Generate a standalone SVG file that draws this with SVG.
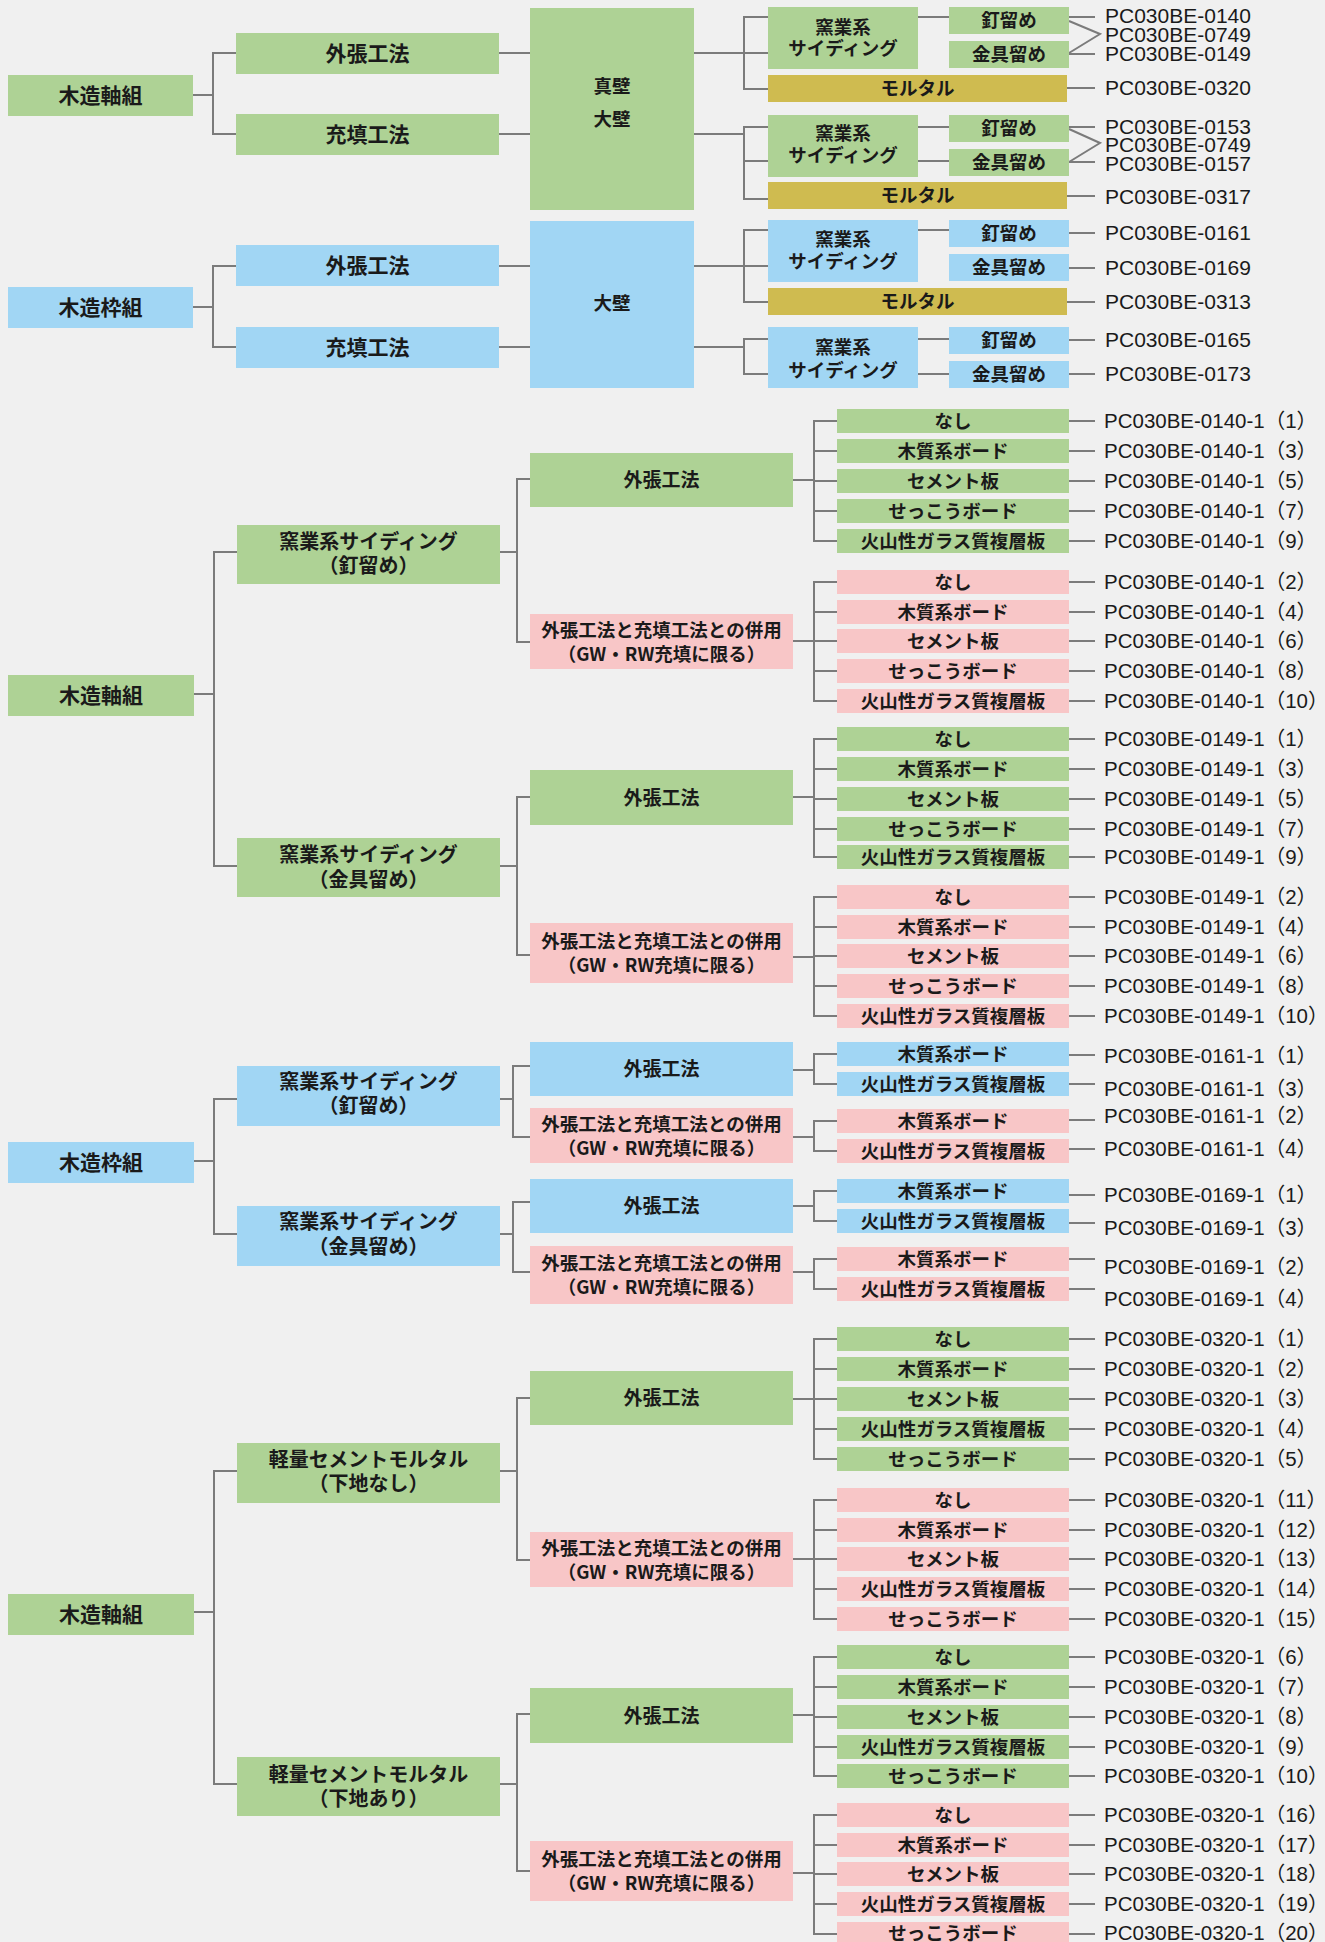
<svg xmlns="http://www.w3.org/2000/svg" width="1325" height="1942" viewBox="0 0 1325 1942">
<style>
.bg{fill:#f0f0f0}
.g{fill:#aed295}.b{fill:#a1d6f4}.p{fill:#f8c6c7}.m{fill:#cfbb50}
.t{font-family:"Noto Sans CJK JP",sans-serif;font-size:20px;text-anchor:middle;fill:#1a1a1a;font-weight:700}
.s{font-size:18.5px}
.l{font-size:21px}
.i{font-size:18.5px}
.k{font-size:18.5px}
.o{font-size:19px}
.pc{font-family:"Liberation Sans","Noto Sans CJK JP",sans-serif;font-size:20.5px;fill:#1a1a1a}
.pt{font-size:21px}
.c{stroke:#7b7b7b;stroke-width:2;fill:none;stroke-linecap:square}
</style>
<rect class="bg" x="0" y="0" width="1325" height="1942"/>
<g id="connectors" class="c">
<path d="M193 95H213M213 53V134M213 53H236M213 134H236M499 53H530M499 134H530"/>
<path d="M694 53H768M744 17V89M744 17H768M744 89H768M918 17H949"/>
<path d="M1069 17H1095M1069 21L1100 34L1069 53M1069 54H1095M1067 88H1095" stroke-linecap="butt"/>
<path d="M694 134H744M744 127V199M744 127H768M744 161H768M744 199H768M918 127H949M918 161H949"/>
<path d="M1069 127H1095M1069 129L1100 143L1069 162M1069 162H1095M1067 196H1095" stroke-linecap="butt"/>
<path d="M193 307H213M213 266V347M213 266H236M213 347H236M499 266H530M499 347H530"/>
<path d="M694 266H768M744 230V302M744 230H768M744 302H768M918 230H949"/>
<path d="M1069 233H1095M1069 268H1095M1067 302H1095" stroke-linecap="butt"/>
<path d="M694 347H744M744 339V374M744 339H768M744 374H768M918 339H949M918 374H949"/>
<path d="M1069 340H1095M1069 374H1095" stroke-linecap="butt"/>
<path d="M194 694H214M214 552V866M214 552H237M214 866H237"/>
<path d="M500 552H517M517 479V642M517 479H530M517 642H530"/>
<path d="M793 480H814M814 421V541M814 421H837M814 451H837M814 481H837M814 511H837M814 541H837"/>
<path d="M793 641H814M814 582V701M814 582H837M814 612H837M814 641H837M814 671H837M814 701H837"/>
<path d="M500 866H517M517 797V955M517 797H530M517 955H530"/>
<path d="M793 797H814M814 739V857M814 739H837M814 769H837M814 799H837M814 829H837M814 857H837"/>
<path d="M793 957H814M814 897V1016M814 897H837M814 927H837M814 956H837M814 986H837M814 1016H837"/>
<path d="M194 1161H214M214 1099V1234M214 1099H237M214 1234H237"/>
<path d="M500 1099H513M513 1066V1137M513 1066H530M513 1137H530"/>
<path d="M793 1070H814M814 1054V1084M814 1054H837M814 1084H837"/>
<path d="M793 1137H814M814 1121V1151M814 1121H837M814 1151H837"/>
<path d="M500 1234H513M513 1202V1272M513 1202H530M513 1272H530"/>
<path d="M793 1206H814M814 1191V1221M814 1191H837M814 1221H837"/>
<path d="M793 1272H814M814 1259V1289M814 1259H837M814 1289H837"/>
<path d="M194 1612H214M214 1471V1784M214 1471H237M214 1784H237"/>
<path d="M500 1471H517M517 1398V1560M517 1398H530M517 1560H530"/>
<path d="M793 1399H814M814 1339V1459M814 1339H837M814 1369H837M814 1399H837M814 1429H837M814 1459H837"/>
<path d="M793 1559H814M814 1500V1619M814 1500H837M814 1530H837M814 1559H837M814 1589H837M814 1619H837"/>
<path d="M500 1784H517M517 1714V1871M517 1714H530M517 1871H530"/>
<path d="M793 1715H814M814 1657V1776M814 1657H837M814 1687H837M814 1717H837M814 1747H837M814 1776H837"/>
<path d="M793 1873H814M814 1815V1934M814 1815H837M814 1845H837M814 1874H837M814 1904H837M814 1934H837"/>
<path stroke-linecap="butt" d="M1069 421H1095M1069 451H1095M1069 481H1095M1069 511H1095M1069 541H1095M1069 582H1095M1069 612H1095M1069 641H1095M1069 671H1095M1069 701H1095M1069 739H1095M1069 769H1095M1069 799H1095M1069 829H1095M1069 857H1095M1069 897H1095M1069 927H1095M1069 956H1095M1069 986H1095M1069 1016H1095"/>
<path stroke-linecap="butt" d="M1069 1055H1095M1069 1084H1095M1069 1120H1095M1069 1149H1095M1069 1195H1095M1069 1223H1095M1069 1259H1095M1069 1289H1095"/>
<path stroke-linecap="butt" d="M1069 1339H1095M1069 1369H1095M1069 1399H1095M1069 1429H1095M1069 1459H1095M1069 1500H1095M1069 1530H1095M1069 1559H1095M1069 1589H1095M1069 1619H1095M1069 1657H1095M1069 1687H1095M1069 1717H1095M1069 1747H1095M1069 1776H1095M1069 1815H1095M1069 1845H1095M1069 1874H1095M1069 1904H1095M1069 1934H1095"/>
</g>
<!-- top section -->
<g id="n-a1"><rect class="g" x="8" y="75" width="185" height="41"/><text class="t l" x="100.5" y="103">木造軸組</text></g>
<g id="n-b1"><rect class="g" x="236" y="33" width="263" height="41"/><text class="t l" x="367.5" y="61">外張工法</text></g>
<g id="n-b2"><rect class="g" x="236" y="114" width="263" height="41"/><text class="t l" x="367.5" y="142">充填工法</text></g>
<g id="n-c1"><rect class="g" x="530" y="8" width="164" height="202"/><text class="t s" x="612" y="93">真壁</text><text class="t s" x="612" y="126">大壁</text></g>
<g id="n-d1"><rect class="g" x="768" y="7" width="150" height="62"/><text class="t s" x="843" y="33.5">窯業系</text><text class="t s" x="843" y="55">サイディング</text></g>
<g id="n-e1"><rect class="g" x="949" y="7" width="120" height="27"/><text class="t s" x="1009" y="27">釘留め</text></g>
<g id="n-e2"><rect class="g" x="949" y="41" width="120" height="27"/><text class="t s" x="1009" y="61">金具留め</text></g>
<g id="n-f1"><rect class="m" x="768" y="75" width="299" height="27"/><text class="t s" x="917.5" y="95">モルタル</text></g>
<g id="n-d2"><rect class="g" x="768" y="115" width="150" height="62"/><text class="t s" x="843" y="140">窯業系</text><text class="t s" x="843" y="161.5">サイディング</text></g>
<g id="n-e3"><rect class="g" x="949" y="115" width="120" height="27"/><text class="t s" x="1009" y="135">釘留め</text></g>
<g id="n-e4"><rect class="g" x="949" y="149" width="120" height="27"/><text class="t s" x="1009" y="169">金具留め</text></g>
<g id="n-f2"><rect class="m" x="768" y="182" width="299" height="27"/><text class="t s" x="917.5" y="202">モルタル</text></g>
<g id="n-a2"><rect class="b" x="8" y="287" width="185" height="41"/><text class="t l" x="100.5" y="315">木造枠組</text></g>
<g id="n-b3"><rect class="b" x="236" y="245" width="263" height="41"/><text class="t l" x="367.5" y="273">外張工法</text></g>
<g id="n-b4"><rect class="b" x="236" y="327" width="263" height="41"/><text class="t l" x="367.5" y="355">充填工法</text></g>
<g id="n-c2"><rect class="b" x="530" y="221" width="164" height="167"/><text class="t s" x="612" y="310">大壁</text></g>
<g id="n-d3"><rect class="b" x="768" y="220" width="150" height="62"/><text class="t s" x="843" y="245.5">窯業系</text><text class="t s" x="843" y="268">サイディング</text></g>
<g id="n-e5"><rect class="b" x="949" y="220" width="120" height="27"/><text class="t s" x="1009" y="240">釘留め</text></g>
<g id="n-e6"><rect class="b" x="949" y="254" width="120" height="27"/><text class="t s" x="1009" y="274">金具留め</text></g>
<g id="n-f3"><rect class="m" x="768" y="288" width="299" height="27"/><text class="t s" x="917.5" y="308">モルタル</text></g>
<g id="n-d4"><rect class="b" x="768" y="327" width="150" height="61"/><text class="t s" x="843" y="353.5">窯業系</text><text class="t s" x="843" y="377">サイディング</text></g>
<g id="n-e7"><rect class="b" x="949" y="327" width="120" height="27"/><text class="t s" x="1009" y="347">釘留め</text></g>
<g id="n-e8"><rect class="b" x="949" y="361" width="120" height="27"/><text class="t s" x="1009" y="381">金具留め</text></g>
<g id="codes-top" class="pc pt">
<text x="1105" y="23">PC030BE-0140</text><text x="1105" y="42">PC030BE-0749</text><text x="1105" y="61">PC030BE-0149</text><text x="1105" y="95">PC030BE-0320</text>
<text x="1105" y="134">PC030BE-0153</text><text x="1105" y="152">PC030BE-0749</text><text x="1105" y="171">PC030BE-0157</text><text x="1105" y="204">PC030BE-0317</text>
<text x="1105" y="240">PC030BE-0161</text><text x="1105" y="275">PC030BE-0169</text><text x="1105" y="309">PC030BE-0313</text>
<text x="1105" y="347">PC030BE-0165</text><text x="1105" y="381">PC030BE-0173</text>
</g>
<!-- section 3 -->
<g id="n-a3"><rect class="g" x="8" y="675" width="186" height="41"/><text class="t l" x="101" y="703">木造軸組</text></g>
<g id="n-d5"><rect class="g" x="237" y="525" width="263" height="59"/><text class="t" x="368.5" y="549">窯業系サイディング</text><text class="t" x="368.5" y="573">（釘留め）</text></g>
<g id="n-d6"><rect class="g" x="237" y="838" width="263" height="59"/><text class="t" x="368.5" y="862">窯業系サイディング</text><text class="t" x="368.5" y="887">（金具留め）</text></g>
<g id="n-g1"><rect class="g" x="530" y="453" width="263" height="54"/><text class="t o" x="661.5" y="487">外張工法</text></g>
<g id="n-h1"><rect class="p" x="530" y="614" width="263" height="55"/><text class="t k" x="661.5" y="636.5">外張工法と充填工法との併用</text><text class="t k" x="661.5" y="660.5">（GW・RW充填に限る）</text></g>
<g id="n-g2"><rect class="g" x="530" y="770" width="263" height="55"/><text class="t o" x="661.5" y="804.5">外張工法</text></g>
<g id="n-h2"><rect class="p" x="530" y="923" width="263" height="60"/><text class="t k" x="661.5" y="948">外張工法と充填工法との併用</text><text class="t k" x="661.5" y="972">（GW・RW充填に限る）</text></g>
<g id="items-g1">
<rect class="g" x="837" y="409" width="232" height="24"/><text class="t i" x="953" y="428">なし</text>
<rect class="g" x="837" y="439" width="232" height="24"/><text class="t i" x="953" y="458">木質系ボード</text>
<rect class="g" x="837" y="469" width="232" height="24"/><text class="t i" x="953" y="488">セメント板</text>
<rect class="g" x="837" y="499" width="232" height="24"/><text class="t i" x="953" y="518">せっこうボード</text>
<rect class="g" x="837" y="529" width="232" height="24"/><text class="t i" x="953" y="548">火山性ガラス質複層板</text>
</g>
<g id="items-h1">
<rect class="p" x="837" y="570" width="232" height="24"/><text class="t i" x="953" y="589">なし</text>
<rect class="p" x="837" y="600" width="232" height="24"/><text class="t i" x="953" y="619">木質系ボード</text>
<rect class="p" x="837" y="629" width="232" height="24"/><text class="t i" x="953" y="648">セメント板</text>
<rect class="p" x="837" y="659" width="232" height="24"/><text class="t i" x="953" y="678">せっこうボード</text>
<rect class="p" x="837" y="689" width="232" height="24"/><text class="t i" x="953" y="708">火山性ガラス質複層板</text>
</g>
<g id="items-g2">
<rect class="g" x="837" y="727" width="232" height="24"/><text class="t i" x="953" y="746">なし</text>
<rect class="g" x="837" y="757" width="232" height="24"/><text class="t i" x="953" y="776">木質系ボード</text>
<rect class="g" x="837" y="787" width="232" height="24"/><text class="t i" x="953" y="806">セメント板</text>
<rect class="g" x="837" y="817" width="232" height="24"/><text class="t i" x="953" y="836">せっこうボード</text>
<rect class="g" x="837" y="845" width="232" height="24"/><text class="t i" x="953" y="864">火山性ガラス質複層板</text>
</g>
<g id="items-h2">
<rect class="p" x="837" y="885" width="232" height="24"/><text class="t i" x="953" y="904">なし</text>
<rect class="p" x="837" y="915" width="232" height="24"/><text class="t i" x="953" y="934">木質系ボード</text>
<rect class="p" x="837" y="944" width="232" height="24"/><text class="t i" x="953" y="963">セメント板</text>
<rect class="p" x="837" y="974" width="232" height="24"/><text class="t i" x="953" y="993">せっこうボード</text>
<rect class="p" x="837" y="1004" width="232" height="24"/><text class="t i" x="953" y="1023">火山性ガラス質複層板</text>
</g>
<g id="codes-s3" class="pc">
<text x="1104" y="428">PC030BE-0140-1（1）</text><text x="1104" y="458">PC030BE-0140-1（3）</text><text x="1104" y="488">PC030BE-0140-1（5）</text><text x="1104" y="518">PC030BE-0140-1（7）</text><text x="1104" y="548">PC030BE-0140-1（9）</text>
<text x="1104" y="589">PC030BE-0140-1（2）</text><text x="1104" y="619">PC030BE-0140-1（4）</text><text x="1104" y="648">PC030BE-0140-1（6）</text><text x="1104" y="678">PC030BE-0140-1（8）</text><text x="1104" y="708">PC030BE-0140-1（10）</text>
<text x="1104" y="746">PC030BE-0149-1（1）</text><text x="1104" y="776">PC030BE-0149-1（3）</text><text x="1104" y="806">PC030BE-0149-1（5）</text><text x="1104" y="836">PC030BE-0149-1（7）</text><text x="1104" y="864">PC030BE-0149-1（9）</text>
<text x="1104" y="904">PC030BE-0149-1（2）</text><text x="1104" y="934">PC030BE-0149-1（4）</text><text x="1104" y="963">PC030BE-0149-1（6）</text><text x="1104" y="993">PC030BE-0149-1（8）</text><text x="1104" y="1023">PC030BE-0149-1（10）</text>
</g>
<!-- section 4 -->
<g id="n-a4"><rect class="b" x="8" y="1142" width="186" height="41"/><text class="t l" x="101" y="1170">木造枠組</text></g>
<g id="n-d7"><rect class="b" x="237" y="1066" width="263" height="60"/><text class="t" x="368.5" y="1089">窯業系サイディング</text><text class="t" x="368.5" y="1113">（釘留め）</text></g>
<g id="n-d8"><rect class="b" x="237" y="1206" width="263" height="60"/><text class="t" x="368.5" y="1229">窯業系サイディング</text><text class="t" x="368.5" y="1254">（金具留め）</text></g>
<g id="n-g3"><rect class="b" x="530" y="1042" width="263" height="54"/><text class="t o" x="661.5" y="1076">外張工法</text></g>
<g id="n-h3"><rect class="p" x="530" y="1108" width="263" height="55"/><text class="t k" x="661.5" y="1130.5">外張工法と充填工法との併用</text><text class="t k" x="661.5" y="1154.5">（GW・RW充填に限る）</text></g>
<g id="n-g4"><rect class="b" x="530" y="1179" width="263" height="54"/><text class="t o" x="661.5" y="1213">外張工法</text></g>
<g id="n-h4"><rect class="p" x="530" y="1246" width="263" height="58"/><text class="t k" x="661.5" y="1270">外張工法と充填工法との併用</text><text class="t k" x="661.5" y="1294">（GW・RW充填に限る）</text></g>
<g id="items-s4">
<rect class="b" x="837" y="1042" width="232" height="24"/><text class="t i" x="953" y="1061">木質系ボード</text>
<rect class="b" x="837" y="1072" width="232" height="24"/><text class="t i" x="953" y="1091">火山性ガラス質複層板</text>
<rect class="p" x="837" y="1109" width="232" height="24"/><text class="t i" x="953" y="1128">木質系ボード</text>
<rect class="p" x="837" y="1139" width="232" height="24"/><text class="t i" x="953" y="1158">火山性ガラス質複層板</text>
<rect class="b" x="837" y="1179" width="232" height="24"/><text class="t i" x="953" y="1198">木質系ボード</text>
<rect class="b" x="837" y="1209" width="232" height="24"/><text class="t i" x="953" y="1228">火山性ガラス質複層板</text>
<rect class="p" x="837" y="1247" width="232" height="24"/><text class="t i" x="953" y="1266">木質系ボード</text>
<rect class="p" x="837" y="1277" width="232" height="24"/><text class="t i" x="953" y="1296">火山性ガラス質複層板</text>
</g>
<g id="codes-s4" class="pc">
<text x="1104" y="1063">PC030BE-0161-1（1）</text><text x="1104" y="1096">PC030BE-0161-1（3）</text>
<text x="1104" y="1123">PC030BE-0161-1（2）</text><text x="1104" y="1156">PC030BE-0161-1（4）</text>
<text x="1104" y="1202">PC030BE-0169-1（1）</text><text x="1104" y="1235">PC030BE-0169-1（3）</text>
<text x="1104" y="1274">PC030BE-0169-1（2）</text><text x="1104" y="1306">PC030BE-0169-1（4）</text>
</g>
<!-- section 5 -->
<g id="n-a5"><rect class="g" x="8" y="1594" width="186" height="41"/><text class="t l" x="101" y="1622">木造軸組</text></g>
<g id="n-d9"><rect class="g" x="237" y="1443" width="263" height="60"/><text class="t" x="368.5" y="1467">軽量セメントモルタル</text><text class="t" x="368.5" y="1491">（下地なし）</text></g>
<g id="n-d10"><rect class="g" x="237" y="1757" width="263" height="59"/><text class="t" x="368.5" y="1781.5">軽量セメントモルタル</text><text class="t" x="368.5" y="1806">（下地あり）</text></g>
<g id="n-g5"><rect class="g" x="530" y="1371" width="263" height="54"/><text class="t o" x="661.5" y="1405">外張工法</text></g>
<g id="n-h5"><rect class="p" x="530" y="1532" width="263" height="55"/><text class="t k" x="661.5" y="1554.5">外張工法と充填工法との併用</text><text class="t k" x="661.5" y="1578.5">（GW・RW充填に限る）</text></g>
<g id="n-g6"><rect class="g" x="530" y="1688" width="263" height="55"/><text class="t o" x="661.5" y="1722.5">外張工法</text></g>
<g id="n-h6"><rect class="p" x="530" y="1841" width="263" height="60"/><text class="t k" x="661.5" y="1866">外張工法と充填工法との併用</text><text class="t k" x="661.5" y="1890">（GW・RW充填に限る）</text></g>
<g id="items-g5">
<rect class="g" x="837" y="1327" width="232" height="24"/><text class="t i" x="953" y="1346">なし</text>
<rect class="g" x="837" y="1357" width="232" height="24"/><text class="t i" x="953" y="1376">木質系ボード</text>
<rect class="g" x="837" y="1387" width="232" height="24"/><text class="t i" x="953" y="1406">セメント板</text>
<rect class="g" x="837" y="1417" width="232" height="24"/><text class="t i" x="953" y="1436">火山性ガラス質複層板</text>
<rect class="g" x="837" y="1447" width="232" height="24"/><text class="t i" x="953" y="1466">せっこうボード</text>
</g>
<g id="items-h5">
<rect class="p" x="837" y="1488" width="232" height="24"/><text class="t i" x="953" y="1507">なし</text>
<rect class="p" x="837" y="1518" width="232" height="24"/><text class="t i" x="953" y="1537">木質系ボード</text>
<rect class="p" x="837" y="1547" width="232" height="24"/><text class="t i" x="953" y="1566">セメント板</text>
<rect class="p" x="837" y="1577" width="232" height="24"/><text class="t i" x="953" y="1596">火山性ガラス質複層板</text>
<rect class="p" x="837" y="1607" width="232" height="24"/><text class="t i" x="953" y="1626">せっこうボード</text>
</g>
<g id="items-g6">
<rect class="g" x="837" y="1645" width="232" height="24"/><text class="t i" x="953" y="1664">なし</text>
<rect class="g" x="837" y="1675" width="232" height="24"/><text class="t i" x="953" y="1694">木質系ボード</text>
<rect class="g" x="837" y="1705" width="232" height="24"/><text class="t i" x="953" y="1724">セメント板</text>
<rect class="g" x="837" y="1735" width="232" height="24"/><text class="t i" x="953" y="1754">火山性ガラス質複層板</text>
<rect class="g" x="837" y="1764" width="232" height="24"/><text class="t i" x="953" y="1783">せっこうボード</text>
</g>
<g id="items-h6">
<rect class="p" x="837" y="1803" width="232" height="24"/><text class="t i" x="953" y="1822">なし</text>
<rect class="p" x="837" y="1833" width="232" height="24"/><text class="t i" x="953" y="1852">木質系ボード</text>
<rect class="p" x="837" y="1862" width="232" height="24"/><text class="t i" x="953" y="1881">セメント板</text>
<rect class="p" x="837" y="1892" width="232" height="24"/><text class="t i" x="953" y="1911">火山性ガラス質複層板</text>
<rect class="p" x="837" y="1922" width="232" height="24"/><text class="t i" x="953" y="1940">せっこうボード</text>
</g>
<g id="codes-s5" class="pc">
<text x="1104" y="1346">PC030BE-0320-1（1）</text><text x="1104" y="1376">PC030BE-0320-1（2）</text><text x="1104" y="1406">PC030BE-0320-1（3）</text><text x="1104" y="1436">PC030BE-0320-1（4）</text><text x="1104" y="1466">PC030BE-0320-1（5）</text>
<text x="1104" y="1507">PC030BE-0320-1（11）</text><text x="1104" y="1537">PC030BE-0320-1（12）</text><text x="1104" y="1566">PC030BE-0320-1（13）</text><text x="1104" y="1596">PC030BE-0320-1（14）</text><text x="1104" y="1626">PC030BE-0320-1（15）</text>
<text x="1104" y="1664">PC030BE-0320-1（6）</text><text x="1104" y="1694">PC030BE-0320-1（7）</text><text x="1104" y="1724">PC030BE-0320-1（8）</text><text x="1104" y="1754">PC030BE-0320-1（9）</text><text x="1104" y="1783">PC030BE-0320-1（10）</text>
<text x="1104" y="1822">PC030BE-0320-1（16）</text><text x="1104" y="1852">PC030BE-0320-1（17）</text><text x="1104" y="1881">PC030BE-0320-1（18）</text><text x="1104" y="1911">PC030BE-0320-1（19）</text><text x="1104" y="1940">PC030BE-0320-1（20）</text>
</g>
</svg>
